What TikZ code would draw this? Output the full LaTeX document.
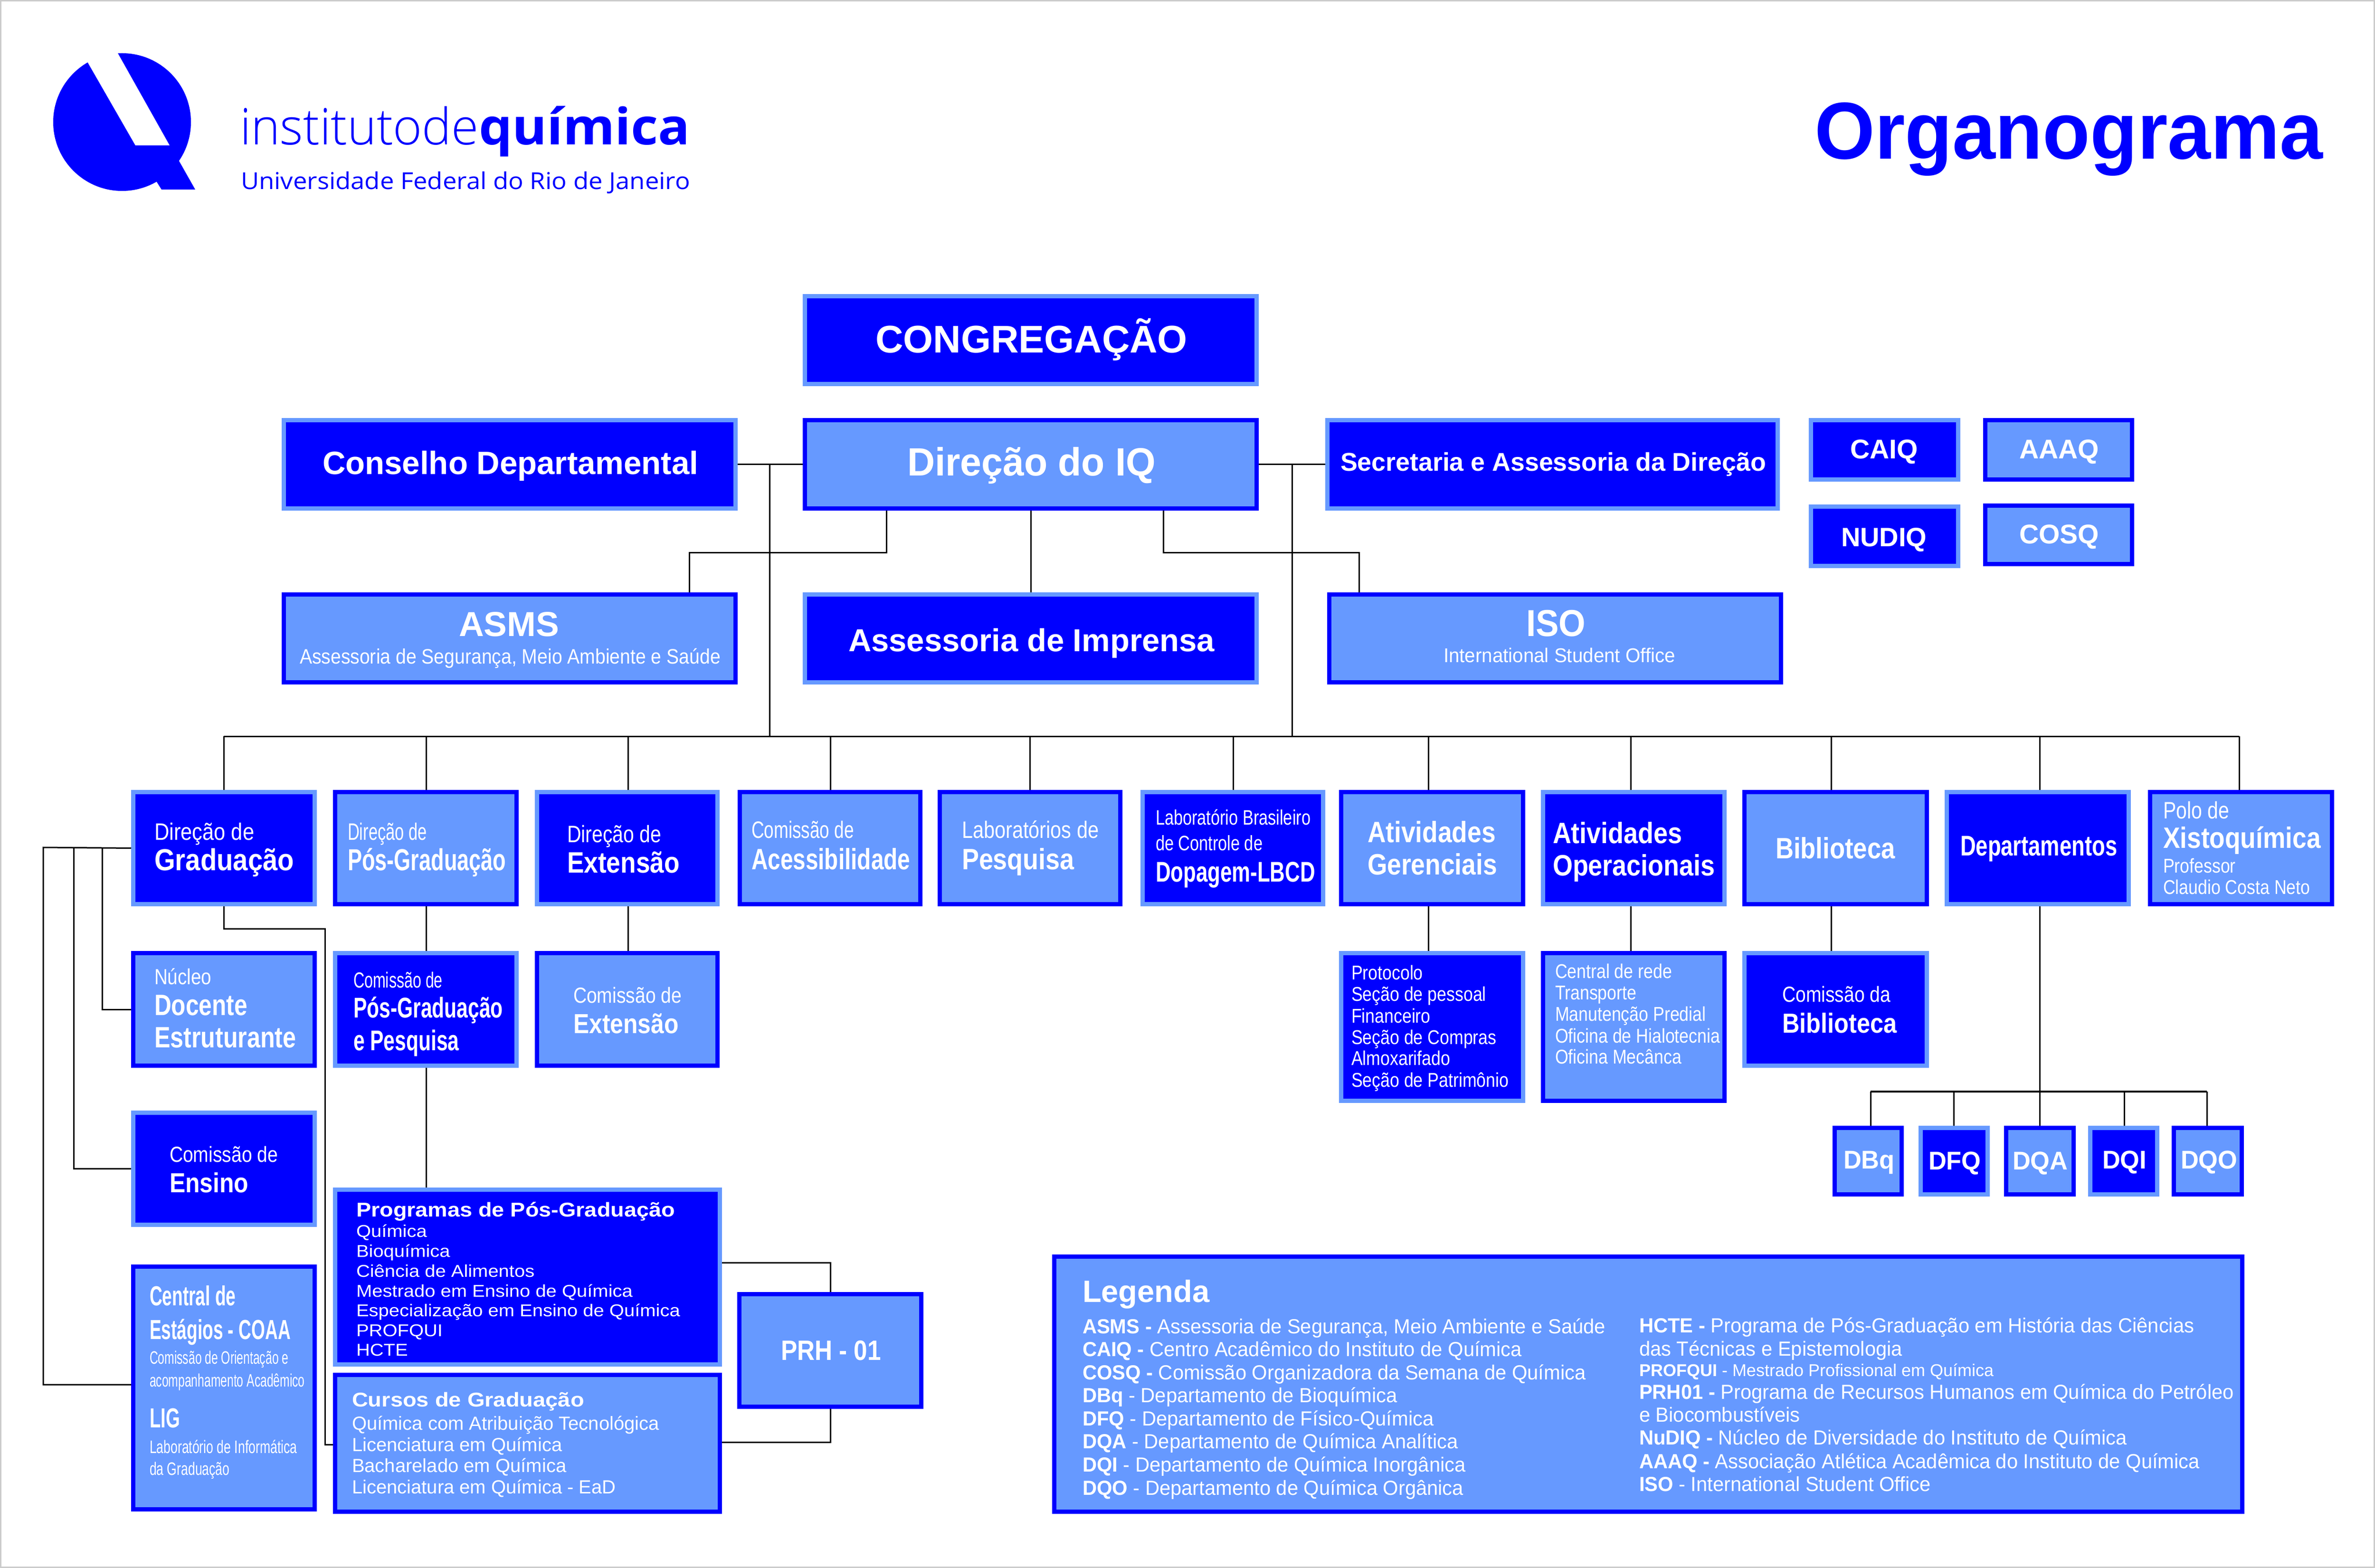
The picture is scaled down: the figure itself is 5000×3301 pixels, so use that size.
\documentclass[tikz,border=0pt]{standalone}
\usepackage{fontspec}
\usepackage{graphicx}
\setmainfont{Liberation Sans}
\newfontfamily\logof{Open Sans Light}[BoldFont={Open Sans Bold}]
\newfontfamily\logoreg{Open Sans}
\definecolor{dk}{HTML}{0000FF}
\definecolor{lt}{HTML}{6699FF}
\newcounter{tn}
\tikzset{
  dkbox/.style={draw=lt,fill=dk,line width=1.8pt,inner sep=0pt},
  ltbox/.style={draw=dk,fill=lt,line width=1.8pt,inner sep=0pt},
  link/.style={draw=black,line width=0.6pt,line join=miter},
  txtline/.style={anchor=base west,inner sep=0pt,outer sep=0pt},
}
% box: style, name, x0,y0,x1,y1 (outer edges in reference pixels)
\newcommand\bx[6]{%
  \pgfmathsetmacro\bxw{(#5-#3-9)*0.2}%
  \pgfmathsetmacro\bxh{(#6-#4-9)*0.2}%
  \pgfmathsetmacro\bxx{(#3+#5)/2}%
  \pgfmathsetmacro\bxy{(#4+#6)/2}%
  \node[#1,minimum width=\bxw pt,minimum height=\bxh pt] (#2) at (\bxx,\bxy) {};}
% text line: x, baseline y, size in px, x scale, text
\newcommand\tline[6][white]{%
  \stepcounter{tn}%
  \pgfmathsetmacro\fsz{#4*0.2}%
  \node[txtline,text=#1] (t\arabic{tn}) at (#2,#3) {\fontsize{\fsz pt}{\fsz pt}\selectfont\scalebox{#5}[1]{#6}};}
% text fitted to a width: x, baseline y, size, width in px, text
\newcommand\tfit[5]{%
  \stepcounter{tn}%
  \pgfmathsetmacro\fsz{#3*0.2}%
  \pgfmathsetmacro\fw{#4*0.2}%
  \node[txtline,text=dk] (t\arabic{tn}) at (#1,#2) {\fontsize{\fsz pt}{\fsz pt}\selectfont\resizebox{\fw pt}{\height}{#5}};}
\begin{document}
\begin{tikzpicture}[x=0.2pt,y=-0.2pt]
\useasboundingbox (0,0) rectangle (5000,3301);
\draw[draw=black!20,fill=white,line width=1.2pt] (0,0) rectangle (5000,3301);

% logo
\fill[dk] (257,257) circle[radius=145];
\fill[dk] (377,339) -- (411,399) -- (340,399) -- (330,383) -- (300,340) -- cycle;
\fill[white] (285,306) -- (357,306) -- (248,112) -- (237,92) -- (162,92) -- cycle;
\tfit{505}{305}{106}{503}{\logof institutode}
\tfit{1008}{305}{106}{445}{\logof\bfseries química}
\tfit{507}{399}{49}{946}{\logoreg Universidade Federal do Rio de Janeiro}
\tline[dk]{3820}{335}{170}{.96}{\bfseries Organograma}

% boxes
\bx{dkbox}{congr}{1690}{619}{2650}{813}
\bx{ltbox}{dir}{1690}{880}{2650}{1075}
\bx{dkbox}{cons}{593}{880}{1553}{1075}
\bx{dkbox}{sec}{2790}{880}{3747}{1075}
\bx{dkbox}{caiq}{3808}{880}{4127}{1014}
\bx{ltbox}{aaaq}{4175}{880}{4493}{1014}
\bx{dkbox}{nudiq}{3808}{1062}{4127}{1196}
\bx{ltbox}{cosq}{4175}{1060}{4493}{1192}
\bx{ltbox}{asms}{593}{1247}{1553}{1441}
\bx{dkbox}{impr}{1690}{1247}{2650}{1441}
\bx{ltbox}{iso}{2794}{1247}{3754}{1441}

\bx{dkbox}{grad}{276}{1663}{667}{1908}
\bx{ltbox}{pos}{701}{1663}{1092}{1908}
\bx{dkbox}{ext}{1126}{1663}{1515}{1908}
\bx{ltbox}{acess}{1553}{1663}{1942}{1908}
\bx{ltbox}{labs}{1974}{1663}{2363}{1908}
\bx{dkbox}{lbcd}{2401}{1663}{2790}{1908}
\bx{ltbox}{ger}{2819}{1663}{3211}{1908}
\bx{dkbox}{oper}{3244}{1663}{3635}{1908}
\bx{ltbox}{bib}{3668}{1663}{4061}{1908}
\bx{dkbox}{depto}{4094}{1663}{4486}{1908}
\bx{ltbox}{polo}{4522}{1663}{4914}{1908}

\bx{ltbox}{nucleo}{276}{2002}{667}{2248}
\bx{dkbox}{cpg}{701}{2002}{1092}{2248}
\bx{ltbox}{cext}{1126}{2002}{1515}{2248}
\bx{dkbox}{prot}{2819}{2002}{3211}{2322}
\bx{ltbox}{rede}{3244}{2002}{3635}{2322}
\bx{dkbox}{cbib}{3668}{2002}{4061}{2248}

\bx{dkbox}{ens}{276}{2338}{667}{2583}
\bx{ltbox}{central}{276}{2662}{667}{3182}
\bx{dkbox}{prog}{701}{2500}{1520}{2877}
\bx{ltbox}{cursos}{701}{2890}{1520}{3187}
\bx{ltbox}{prh}{1552}{2720}{1944}{2966}

\bx{ltbox}{dbq}{3858}{2370}{4008}{2519}
\bx{dkbox}{dfq}{4039}{2370}{4189}{2519}
\bx{ltbox}{dqa}{4219}{2370}{4370}{2519}
\bx{dkbox}{dqi}{4396}{2370}{4546}{2519}
\bx{ltbox}{dqo}{4572}{2370}{4724}{2519}

\bx{ltbox}{leg}{2215}{2641}{4725}{3187}

% named junction points of the connectors
\coordinate (tl) at (1620,1550);
\coordinate (tr) at (2720,1550);
\coordinate (a1) at (1866,1164);
\coordinate (a2) at (1451,1164);
\coordinate (i1) at (2449,1164);
\coordinate (i2) at (2861,1164);
\coordinate (d1) at (471,1550);
\coordinate (d2) at (897,1550);
\coordinate (d3) at (1322,1550);
\coordinate (d4) at (1748,1550);
\coordinate (d5) at (2168,1550);
\coordinate (d6) at (2596,1550);
\coordinate (d7) at (3007,1550);
\coordinate (d8) at (3433,1550);
\coordinate (d9) at (3855,1550);
\coordinate (d10) at (4294,1550);
\coordinate (d11) at (4714,1550);
\coordinate (l1) at (91,1784);
\coordinate (l2) at (155,1784);
\coordinate (l3) at (215,1784);
\coordinate (cy) at (91,2915);
\coordinate (g1) at (684,1955);
\coordinate (g2) at (684,3041);
\coordinate (p1) at (1748,2658);
\coordinate (p2) at (1748,3036);
\coordinate (hl) at (3938,2298);
\coordinate (hf) at (4113,2298);
\coordinate (hq) at (4294,2298);
\coordinate (hi) at (4472,2298);
\coordinate (ho) at (4646,2298);

% connectors
\draw[link] (cons.east) -- (dir.west);
\draw[link] (dir.east) -- (sec.west);
\draw[link] (tl |- dir.west) -- (tl);
\draw[link] (tr |- dir.east) -- (tr);
\draw[link] (a1 |- dir.south) -- (a1) -- (a2) -- (a2 |- asms.north);
\draw[link] (dir.south) -- (impr.north);
\draw[link] (i1 |- dir.south) -- (i1) -- (i2) -- (i2 |- iso.north);
\draw[link] (d1) -- (d11);
\draw[link] (d1) -- (d1 |- grad.north);
\draw[link] (d2) -- (d2 |- pos.north);
\draw[link] (d3) -- (d3 |- ext.north);
\draw[link] (d4) -- (d4 |- acess.north);
\draw[link] (d5) -- (d5 |- labs.north);
\draw[link] (d6) -- (d6 |- lbcd.north);
\draw[link] (d7) -- (d7 |- ger.north);
\draw[link] (d8) -- (d8 |- oper.north);
\draw[link] (d9) -- (d9 |- bib.north);
\draw[link] (d10) -- (d10 |- depto.north);
\draw[link] (d11) -- (d11 |- polo.north);
\draw[link] (d2 |- pos.south) -- (d2 |- cpg.north);
\draw[link] (d2 |- cpg.south) -- (d2 |- prog.north);
\draw[link] (d3 |- ext.south) -- (d3 |- cext.north);
\draw[link] (d7 |- ger.south) -- (d7 |- prot.north);
\draw[link] (d8 |- oper.south) -- (d8 |- rede.north);
\draw[link] (d9 |- bib.south) -- (d9 |- cbib.north);
\draw[link] (d10 |- depto.south) -- (d10 |- dqa.north);
\draw[link,line width=0.8pt] (hl) -- (ho);
\draw[link] (hl) -- (hl |- dbq.north);
\draw[link] (hf) -- (hf |- dfq.north);
\draw[link] (hi) -- (hi |- dqi.north);
\draw[link] (ho) -- (ho |- dqo.north);
\draw[link] (grad.west) -- (l1) -- (cy) -- (cy -| central.west);
\draw[link] (l2) -- (l2 |- ens.west) -- (ens.west);
\draw[link] (l3) -- (l3 |- nucleo.west) -- (nucleo.west);
\draw[link] (d1 |- grad.south) -- (d1 |- g1) -- (g1) -- (g2) -- (g2 -| cursos.west);
\draw[link] (prog.east |- p1) -- (p1) -- (p1 |- prh.north);
\draw[link] (cursos.east |- p2) -- (p2) -- (p2 |- prh.south);

% texts
\tline{1843}{743}{81}{1}{\bfseries CONGREGAÇÃO}
\tline{1910}{1002}{83}{.97}{\bfseries Direção do IQ}
\tline{679}{999}{68}{.988}{\bfseries Conselho Departamental}
\tline{2822}{992}{54}{.995}{\bfseries Secretaria e Assessoria da Direção}
\tline{3895}{966}{57}{1}{\bfseries CAIQ}
\tline{4251}{966}{57}{1}{\bfseries AAAQ}
\tline{3876}{1151}{56}{1}{\bfseries NUDIQ}
\tline{4251}{1145}{57}{1}{\bfseries COSQ}
\tline{966}{1340}{73}{1}{\bfseries ASMS}
\tline{631}{1397}{44}{.89}{Assessoria de Segurança, Meio Ambiente e Saúde}
\tline{1786}{1371}{67}{1}{\bfseries Assessoria de Imprensa}
\tline{3213}{1340}{79}{.92}{\bfseries ISO}
\tline{3039}{1394}{42}{.96}{International Student Office}

\tline{325}{1768}{50}{.87}{Direção de}
\tline{325}{1832}{64}{.88}{\bfseries Graduação}
\tline{732}{1768}{50}{.69}{Direção de}
\tline{732}{1832}{64}{.705}{\bfseries Pós-Graduação}
\tline{1194}{1773}{50}{.82}{Direção de}
\tline{1194}{1837}{62}{.86}{\bfseries Extensão}
\tline{1582}{1764}{50}{.74}{Comissão de}
\tline{1582}{1830}{62}{.77}{\bfseries Acessibilidade}
\tline{2025}{1764}{50}{.83}{Laboratórios de}
\tline{2025}{1830}{62}{.87}{\bfseries Pesquisa}
\tline{2433}{1736}{44}{.78}{Laboratório Brasileiro}
\tline{2433}{1790}{44}{.78}{de Controle de}
\tline{2433}{1856}{60}{.73}{\bfseries Dopagem-LBCD}
\tline{2879}{1773}{62}{.86}{\bfseries Atividades}
\tline{2879}{1841}{62}{.86}{\bfseries Gerenciais}
\tline{3269}{1775}{62}{.87}{\bfseries Atividades}
\tline{3269}{1843}{62}{.87}{\bfseries Operacionais}
\tline{3738}{1807}{62}{.85}{\bfseries Biblioteca}
\tline{4127}{1801}{60}{.756}{\bfseries Departamentos}
\tline{4554}{1723}{50}{.82}{Polo de}
\tline{4554}{1785}{62}{.86}{\bfseries Xistoquímica}
\tline{4554}{1837}{42}{.85}{Professor}
\tline{4554}{1882}{42}{.85}{Claudio Costa Neto}

\tline{325}{2072}{46}{.84}{Núcleo}
\tline{325}{2137}{62}{.8}{\bfseries Docente}
\tline{325}{2205}{62}{.81}{\bfseries Estruturante}
\tline{744}{2079}{46}{.7}{Comissão de}
\tline{744}{2142}{60}{.71}{\bfseries Pós-Graduação}
\tline{744}{2211}{60}{.71}{\bfseries e Pesquisa}
\tline{1207}{2111}{46}{.85}{Comissão de}
\tline{1207}{2175}{58}{.86}{\bfseries Extensão}
\tline{357}{2446}{46}{.85}{Comissão de}
\tline{357}{2510}{58}{.86}{\bfseries Ensino}

\tline{2845}{2062}{42}{.85}{Protocolo}
\tline{2845}{2107}{42}{.85}{Seção de pessoal}
\tline{2845}{2153}{42}{.85}{Financeiro}
\tline{2845}{2198}{42}{.85}{Seção de Compras}
\tline{2845}{2242}{42}{.85}{Almoxarifado}
\tline{2845}{2288}{42}{.85}{Seção de Patrimônio}
\tline{3274}{2059}{42}{.85}{Central de rede}
\tline{3274}{2104}{42}{.85}{Transporte}
\tline{3274}{2149}{42}{.85}{Manutenção Predial}
\tline{3274}{2195}{42}{.85}{Oficina de Hialotecnia}
\tline{3274}{2239}{42}{.85}{Oficina Mecânca}
\tline{3752}{2109}{46}{.85}{Comissão da}
\tline{3752}{2174}{58}{.87}{\bfseries Biblioteca}

\tline{3881}{2460}{54}{.97}{\bfseries DBq}
\tline{4060}{2462}{54}{.97}{\bfseries DFQ}
\tline{4237}{2462}{54}{.97}{\bfseries DQA}
\tline{4426}{2460}{54}{.97}{\bfseries DQI}
\tline{4591}{2460}{54}{.97}{\bfseries DQO}

\tline{315}{2748}{58}{.64}{\bfseries Central de}
\tline{315}{2819}{58}{.64}{\bfseries Estágios - COAA}
\tline{315}{2871}{38}{.65}{Comissão de Orientação e}
\tline{315}{2919}{38}{.65}{acompanhamento Acadêmico}
\tline{315}{3005}{58}{.66}{\bfseries LIG}
\tline{315}{3059}{38}{.7}{Laboratório de Informática}
\tline{315}{3105}{38}{.7}{da Graduação}

\tline{750}{2561}{42}{1.114}{\bfseries Programas de Pós-Graduação}
\tline{750}{2604}{36}{1.11}{Química}
\tline{750}{2646}{36}{1.11}{Bioquímica}
\tline{750}{2688}{36}{1.11}{Ciência de Alimentos}
\tline{750}{2730}{36}{1.11}{Mestrado em Ensino de Química}
\tline{750}{2771}{36}{1.11}{Especialização em Ensino de Química}
\tline{750}{2813}{36}{1.11}{PROFQUI}
\tline{750}{2854}{36}{1.11}{HCTE}
\tline{741}{2961}{42}{1.12}{\bfseries Cursos de Graduação}
\tline{741}{3010}{40}{1}{Química com Atribuição Tecnológica}
\tline{741}{3055}{40}{1}{Licenciatura em Química}
\tline{741}{3099}{40}{1}{Bacharelado em Química}
\tline{741}{3144}{40}{1}{Licenciatura em Química - EaD}
\tline{1644}{2863}{59}{.87}{\bfseries PRH - 01}

\tline{2279}{2741}{65}{1}{\bfseries Legenda}
\tline{2279}{2807}{43}{.97}{\textbf{ASMS -} Assessoria de Segurança, Meio Ambiente e Saúde}
\tline{2279}{2855}{43}{.97}{\textbf{CAIQ -} Centro Acadêmico do Instituto de Química}
\tline{2279}{2904}{43}{.97}{\textbf{COSQ -} Comissão Organizadora da Semana de Química}
\tline{2279}{2952}{43}{.97}{\textbf{DBq} - Departamento de Bioquímica}
\tline{2279}{3001}{43}{.97}{\textbf{DFQ} - Departamento de Físico-Química}
\tline{2279}{3049}{43}{.97}{\textbf{DQA} - Departamento de Química Analítica}
\tline{2279}{3098}{43}{.97}{\textbf{DQI} - Departamento de Química Inorgânica}
\tline{2279}{3147}{43}{.97}{\textbf{DQO} - Departamento de Química Orgânica}
\tline{3451}{2805}{43}{.97}{\textbf{HCTE -} Programa de Pós-Graduação em História das Ciências}
\tline{3451}{2854}{43}{.97}{das Técnicas e Epistemologia}
\tline{3451}{2897}{36}{1}{\textbf{PROFQUI} - Mestrado Profissional em Química}
\tline{3451}{2945}{43}{.97}{\textbf{PRH01 -} Programa de Recursos Humanos em Química do Petróleo}
\tline{3451}{2993}{43}{.97}{e Biocombustíveis}
\tline{3451}{3041}{43}{.97}{\textbf{NuDIQ -} Núcleo de Diversidade do Instituto de Química}
\tline{3451}{3091}{43}{.97}{\textbf{AAAQ -} Associação Atlética Acadêmica do Instituto de Química}
\tline{3451}{3139}{43}{.97}{\textbf{ISO} - International Student Office}
\end{tikzpicture}
\end{document}
